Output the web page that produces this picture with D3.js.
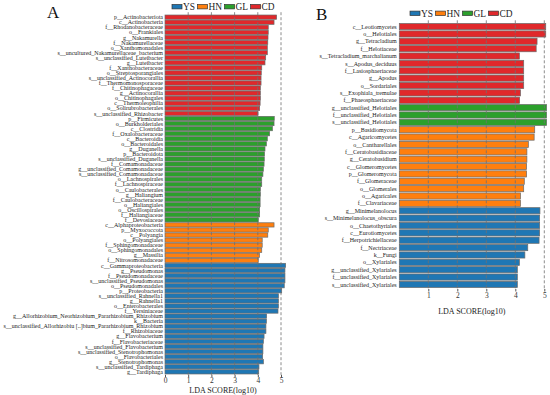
<!DOCTYPE html>
<html>
<head>
<meta charset="utf-8">
<script src="https://cdn.jsdelivr.net/npm/d3@7"></script>
<style>
  body { margin: 0; background: #fff; }
  svg { display: block; font-family: "Liberation Serif", "Times New Roman", serif; }
</style>
</head>
<body>
<svg id="chart" width="550" height="395"></svg>
<script>
'use strict';

var groups = ['YS', 'HN', 'GL', 'CD'];
var groupColors = ['#1f77b4', '#ff7f0e', '#2ca02c', '#e0282b'];

// panel A : bacteria
var taxaA = [
  'p__Actinobacteriota', 'c__Actinobacteria', 'f__Rhodanobacteraceae', 'o__Frankiales',
  'g__Nakamurella', 'f__Nakamurellaceae', 'o__Xanthomonadales', 's__uncultured_Nakamurellaceae_bacterium',
  's__unclassified_Luteibacter', 'g__Luteibacter', 'f__Xanthobacteraceae', 'o__Streptosporangiales',
  's__unclassified_Actinocorallia', 'f__Thermomonosporaceae', 'f__Chitinophagaceae', 'g__Actinocorallia',
  'o__Chitinophagales', 'c__Thermoleophilia', 'o__Solirubrobacterales', 's__unclassified_Rhizobacter',
  'p__Firmicutes', 'o__Burkholderiales', 'c__Clostridia', 'f__Oxalobacteraceae',
  'c__Bacteroidia', 'o__Bacteroidales', 'g__Duganella', 'p__Bacteroidota',
  's__unclassified_Duganella', 'f__Comamonadaceae', 'g__unclassified_Comamonadaceae', 's__unclassified_Comamonadaceae',
  'o__Lachnospirales', 'f__Lachnospiraceae', 'o__Caulobacterales', 'g__Haliangium',
  'f__Caulobacteraceae', 'o__Haliangiales', 'o__Oscillospirales', 'f__Haliangiaceae',
  'f__Devosiaceae',
  'c__Alphaproteobacteria', 'p__Myxococcota', 'c__Polyangia', 'o__Polyangiales',
  'f__Sphingomonadaceae', 'o__Sphingomonadales', 'g__Massilia', 'f__Nitrosomonadaceae',
  'c__Gammaproteobacteria', 'g__Pseudomonas', 'f__Pseudomonadaceae', 's__unclassified_Pseudomonas',
  'o__Pseudomonadales', 'p__Proteobacteria', 's__unclassified_Rahnella1', 'g__Rahnella1',
  'o__Enterobacterales', 'f__Yersiniaceae', 'g__Allorhizobium_Neorhizobium_Pararhizobium_Rhizobium', 'k__Bacteria',
  's__unclassified_Allorhizobiu [..]bium_Pararhizobium_Rhizobium', 'f__Rhizobiaceae', 'g__Flavobacterium', 'f__Flavobacteriaceae',
  's__unclassified_Flavobacterium', 's__unclassified_Stenotrophomonas', 'o__Flavobacteriales', 'g__Stenotrophomonas',
  's__unclassified_Tardiphaga', 'g__Tardiphaga'
];
var ldaA = [
  4.81, 4.70, 4.45, 4.45, 4.44, 4.43, 4.41, 4.41, 4.34, 4.31,
  4.17, 4.15, 4.14, 4.14, 4.11, 4.11, 4.11, 4.10, 4.08, 4.01,
  4.71, 4.70, 4.63, 4.51, 4.41, 4.37, 4.31, 4.29, 4.28, 4.27,
  4.24, 4.22, 4.17, 4.17, 4.11, 4.11, 4.10, 4.10, 4.08, 4.08, 4.02,
  4.70, 4.45, 4.43, 4.19, 4.19, 4.17, 4.07, 4.02,
  5.20, 5.17, 5.17, 5.17, 5.14, 5.03, 4.89, 4.89, 4.89, 4.87,
  4.38, 4.37, 4.35, 4.35, 4.27, 4.24, 4.22, 4.22, 4.21, 4.24, 4.05, 4.04
];
var blockGroupsA = ['CD', 'GL', 'HN', 'YS'];
var blockSizesA = [20, 21, 8, 22];

// panel B : fungi
var taxaB = [
  'c__Leotiomycetes', 'o__Helotiales', 'g__Tetracladium', 'f__Helotiaceae',
  's__Tetracladium_marchalianum', 's__Apodus_deciduus', 'f__Lasiosphaeriaceae', 'g__Apodus',
  'o__Sordariales', 's__Exophiala_tremulae', 'f__Phaeosphaeriaceae',
  'g__unclassified_Helotiales', 'f__unclassified_Helotiales', 's__unclassified_Helotiales',
  'p__Basidiomycota', 'c__Agaricomycetes', 'o__Cantharellales', 'f__Ceratobasidiaceae',
  'g__Ceratobasidium', 'c__Glomeromycetes', 'p__Glomeromycota', 'f__Glomeraceae',
  'o__Glomerales', 'o__Agaricales', 'f__Clavariaceae',
  'g__Minimelanolocus', 's__Minimelanolocus_obscura', 'o__Chaetothyriales', 'c__Eurotiomycetes',
  'f__Herpotrichiellaceae', 'f__Nectriaceae', 'k__Fungi', 'o__Xylariales',
  'g__unclassified_Xylariales', 'f__unclassified_Xylariales', 's__unclassified_Xylariales'
];
var ldaB = [
  5.05, 5.05, 4.75, 4.72, 4.14, 4.29, 4.29, 4.29, 4.29, 4.18, 4.15,
  5.08, 5.08, 5.08,
  4.67, 4.65, 4.45, 4.40, 4.40, 4.39, 4.39, 4.31, 4.29, 4.18, 4.18,
  4.85, 4.84, 4.84, 4.84, 4.82, 4.43, 4.33, 4.14, 4.07, 4.07, 4.07
];
var blockGroupsB = ['CD', 'GL', 'HN', 'YS'];
var blockSizesB = [11, 3, 11, 11];

var svg = d3.select('#chart');
var color = d3.scaleOrdinal().domain(groups).range(groupColors);

function classOf(blockGroups, blockSizes) {
  var out = [];
  blockGroups.forEach(function (gname, i) {
    for (var k = 0; k < blockSizes[i]; k++) { out.push(gname); }
  });
  return out;
}

function drawPanel(cfg) {
  var cls = classOf(cfg.blockGroups, cfg.blockSizes);
  var rows = cfg.taxa.map(function (t, i) {
    return { taxon: t, lda: cfg.lda[i], grp: cls[i] };
  });

  var x = d3.scaleLinear().domain([0, 5]).range(cfg.xRange);
  var y = d3.scaleBand().domain(cfg.taxa).range(cfg.yRange).padding(cfg.pad);

  var g = svg.append('g');

  // bars
  g.selectAll('rect.bar').data(rows).enter()
    .append('rect')
    .attr('class', 'bar')
    .attr('x', x(0))
    .attr('y', function (d) { return y(d.taxon); })
    .attr('width', function (d) { return x(d.lda) - x(0); })
    .attr('height', y.bandwidth())
    .attr('fill', function (d) { return color(d.grp); })
    .attr('stroke', '#6a6a6a')
    .attr('stroke-width', 0.7);

  // dashed grid, drawn over the bars
  g.selectAll('line.grid').data([1, 2, 3, 4, 5]).enter()
    .append('line')
    .attr('class', 'grid')
    .attr('x1', function (d) { return x(d); })
    .attr('x2', function (d) { return x(d); })
    .attr('y1', cfg.yRange[0] - 2)
    .attr('y2', cfg.yRange[1])
    .attr('stroke', '#707070')
    .attr('stroke-width', 0.8)
    .attr('stroke-dasharray', '3,2');

  // taxon labels
  g.selectAll('text.taxon').data(rows).enter()
    .append('text')
    .attr('class', 'taxon')
    .attr('x', x(0) - cfg.labelGap)
    .attr('y', function (d) { return y(d.taxon) + y.bandwidth() / 2; })
    .attr('dy', '0.35em')
    .attr('text-anchor', 'end')
    .attr('font-size', cfg.labelSize)
    .attr('fill', '#222')
    .text(function (d) { return d.taxon; });

  // x axis
  var axis = g.append('g')
    .attr('transform', 'translate(0,' + cfg.axisY + ')')
    .call(d3.axisBottom(x).tickValues(cfg.ticks).tickSize(2.5).tickPadding(cfg.tickPad).tickFormat(d3.format('d')));
  axis.select('.domain').remove();
  axis.selectAll('.tick line').attr('stroke', '#555');
  axis.selectAll('.tick text')
    .attr('font-family', '"Liberation Serif", serif')
    .attr('font-size', 7.5)
    .attr('fill', '#333');

  g.append('text')
    .attr('x', (cfg.xRange[0] + cfg.xRange[1]) / 2)
    .attr('y', cfg.titleY)
    .attr('text-anchor', 'middle')
    .attr('font-size', 8)
    .attr('fill', '#222')
    .text('LDA SCORE(log10)');

  // legend
  var lx = cfg.legendX;
  groups.forEach(function (gname) {
    g.append('rect')
      .attr('x', lx).attr('y', cfg.legendY - 2.2)
      .attr('width', 10).attr('height', 4.4)
      .attr('fill', color(gname))
      .attr('stroke', '#333').attr('stroke-width', 0.7);
    var t = g.append('text')
      .attr('x', lx + 11)
      .attr('y', cfg.legendY + 3.3)
      .attr('font-size', 9.4)
      .attr('fill', '#222')
      .text(gname);
    lx += 11 + t.node().getComputedTextLength() + 2.5;
  });

  // panel letter
  g.append('text')
    .attr('x', cfg.letterX)
    .attr('y', cfg.letterY)
    .attr('font-size', 17)
    .attr('fill', '#111')
    .text(cfg.letter);
}

drawPanel({
  taxa: taxaA, lda: ldaA, blockGroups: blockGroupsA, blockSizes: blockSizesA,
  xRange: [165, 281], yRange: [14.2, 374.8], pad: 0.16,
  labelGap: 2, labelSize: 6, ticks: [0, 1, 2, 3, 4, 5],
  axisY: 374.8, tickPad: 0.5, titleY: 393,
  legendX: 172, legendY: 6.7,
  letter: 'A', letterX: 47, letterY: 17.5
});

drawPanel({
  taxa: taxaB, lda: ldaB, blockGroups: blockGroupsB, blockSizes: blockSizesB,
  xRange: [399.3, 544.3], yRange: [22.3, 288.7], pad: 0.16,
  labelGap: 2.6, labelSize: 6, ticks: [1, 2, 3, 4, 5],
  axisY: 289, tickPad: 1.5, titleY: 313.5,
  legendX: 410, legendY: 13.3,
  letter: 'B', letterX: 316, letterY: 20
});
</script>
</body>
</html>
